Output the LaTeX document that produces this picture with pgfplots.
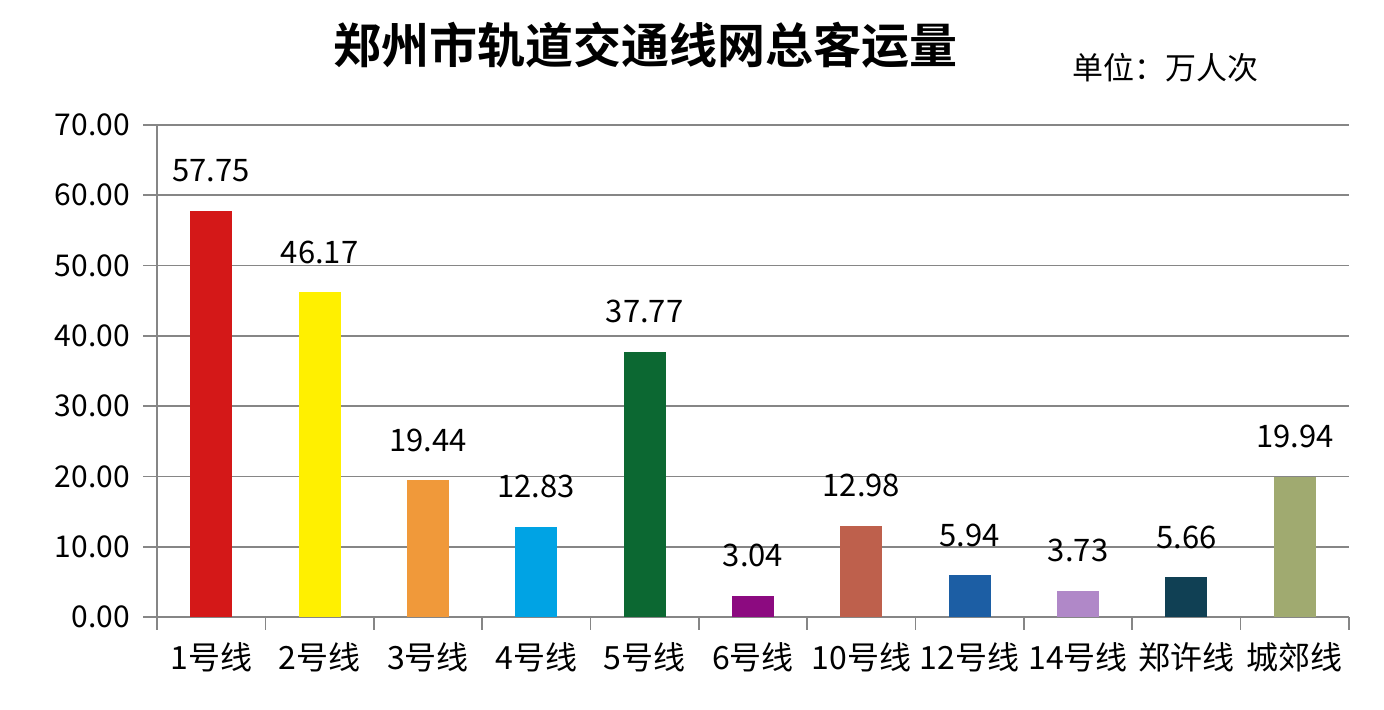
\documentclass[border=0pt]{standalone}
\usepackage{fontspec}
\setmainfont{Noto Sans CJK SC}
\newfontfamily\titlefont{Noto Sans CJK SC}[BoldFont=* Bold]
\usepackage{pgfplots}
\pgfplotsset{compat=1.18}

\definecolor{GridGray}{RGB}{134,134,134}
\definecolor{L1}{RGB}{212,24,24}
\definecolor{L2}{RGB}{255,240,0}
\definecolor{L3}{RGB}{240,153,58}
\definecolor{L4}{RGB}{0,163,228}
\definecolor{L5}{RGB}{12,104,50}
\definecolor{L6}{RGB}{140,10,128}
\definecolor{L10}{RGB}{190,96,76}
\definecolor{L12}{RGB}{28,94,164}
\definecolor{L14}{RGB}{176,136,200}
\definecolor{LZX}{RGB}{16,64,84}
\definecolor{LCJ}{RGB}{160,170,112}

\begin{document}
\begin{tikzpicture}
\useasboundingbox (-78.5pt,-46.5pt) rectangle (613.5pt,308.5pt);
\begin{axis}[
    at={(0,0)}, anchor=south west,
    scale only axis,
    width=596pt, height=246pt,
    xmin=-0.5, xmax=10.5,
    ymin=0, ymax=70,
    axis x line*=bottom, axis y line*=left,
    axis line style={GridGray, line width=0.8pt},
    ytick={0,10,...,70},
    yticklabel style={font=\fontsize{15}{15}\selectfont, xshift=-3pt},
    yticklabel={\pgfmathprintnumber[fixed, fixed zerofill, precision=2, assume math mode=true]{\tick}},
    ymajorgrids,
    major grid style={GridGray, line width=0.8pt},
    tick style={GridGray, line width=0.8pt},
    tick align=outside,
    major tick length=7pt,
    xtick={0,...,10},
    xticklabels={1号线,2号线,3号线,4号线,5号线,6号线,10号线,12号线,14号线,郑许线,城郊线},
    x tick label style={font=\fontsize{16}{16}\selectfont, yshift=-2pt},
    x tick style={draw=none},
    minor xtick={-0.5,0.5,...,10.5},
    minor x tick style={draw=GridGray, line width=0.8pt},
    minor tick length=6.5pt,
    ybar, bar width=21pt, bar shift=0pt,
    nodes near coords,
    nodes near coords style={font=\fontsize{15.5}{15.5}\selectfont, anchor=center, yshift=20pt,
        /pgf/number format/.cd, fixed, fixed zerofill, precision=2, assume math mode=true},
    clip=false,
]
\addplot[fill=L1, draw=none] coordinates {(0,57.75)};
\addplot[fill=L2, draw=none] coordinates {(1,46.17)};
\addplot[fill=L3, draw=none] coordinates {(2,19.44)};
\addplot[fill=L4, draw=none] coordinates {(3,12.83)};
\addplot[fill=L5, draw=none] coordinates {(4,37.77)};
\addplot[fill=L6, draw=none] coordinates {(5,3.04)};
\addplot[fill=L10, draw=none] coordinates {(6,12.98)};
\addplot[fill=L12, draw=none] coordinates {(7,5.94)};
\addplot[fill=L14, draw=none] coordinates {(8,3.73)};
\addplot[fill=LZX, draw=none] coordinates {(9,5.66)};
\addplot[fill=LCJ, draw=none] coordinates {(10,19.94)};
\end{axis}
\node[font=\titlefont\bfseries\fontsize{24}{24}\selectfont] at (244pt,286pt) {郑州市轨道交通线网总客运量};
\node[font=\fontsize{15.5}{15.5}\selectfont] at (504pt,274.5pt) {单位：万人次};
\end{tikzpicture}
\end{document}
